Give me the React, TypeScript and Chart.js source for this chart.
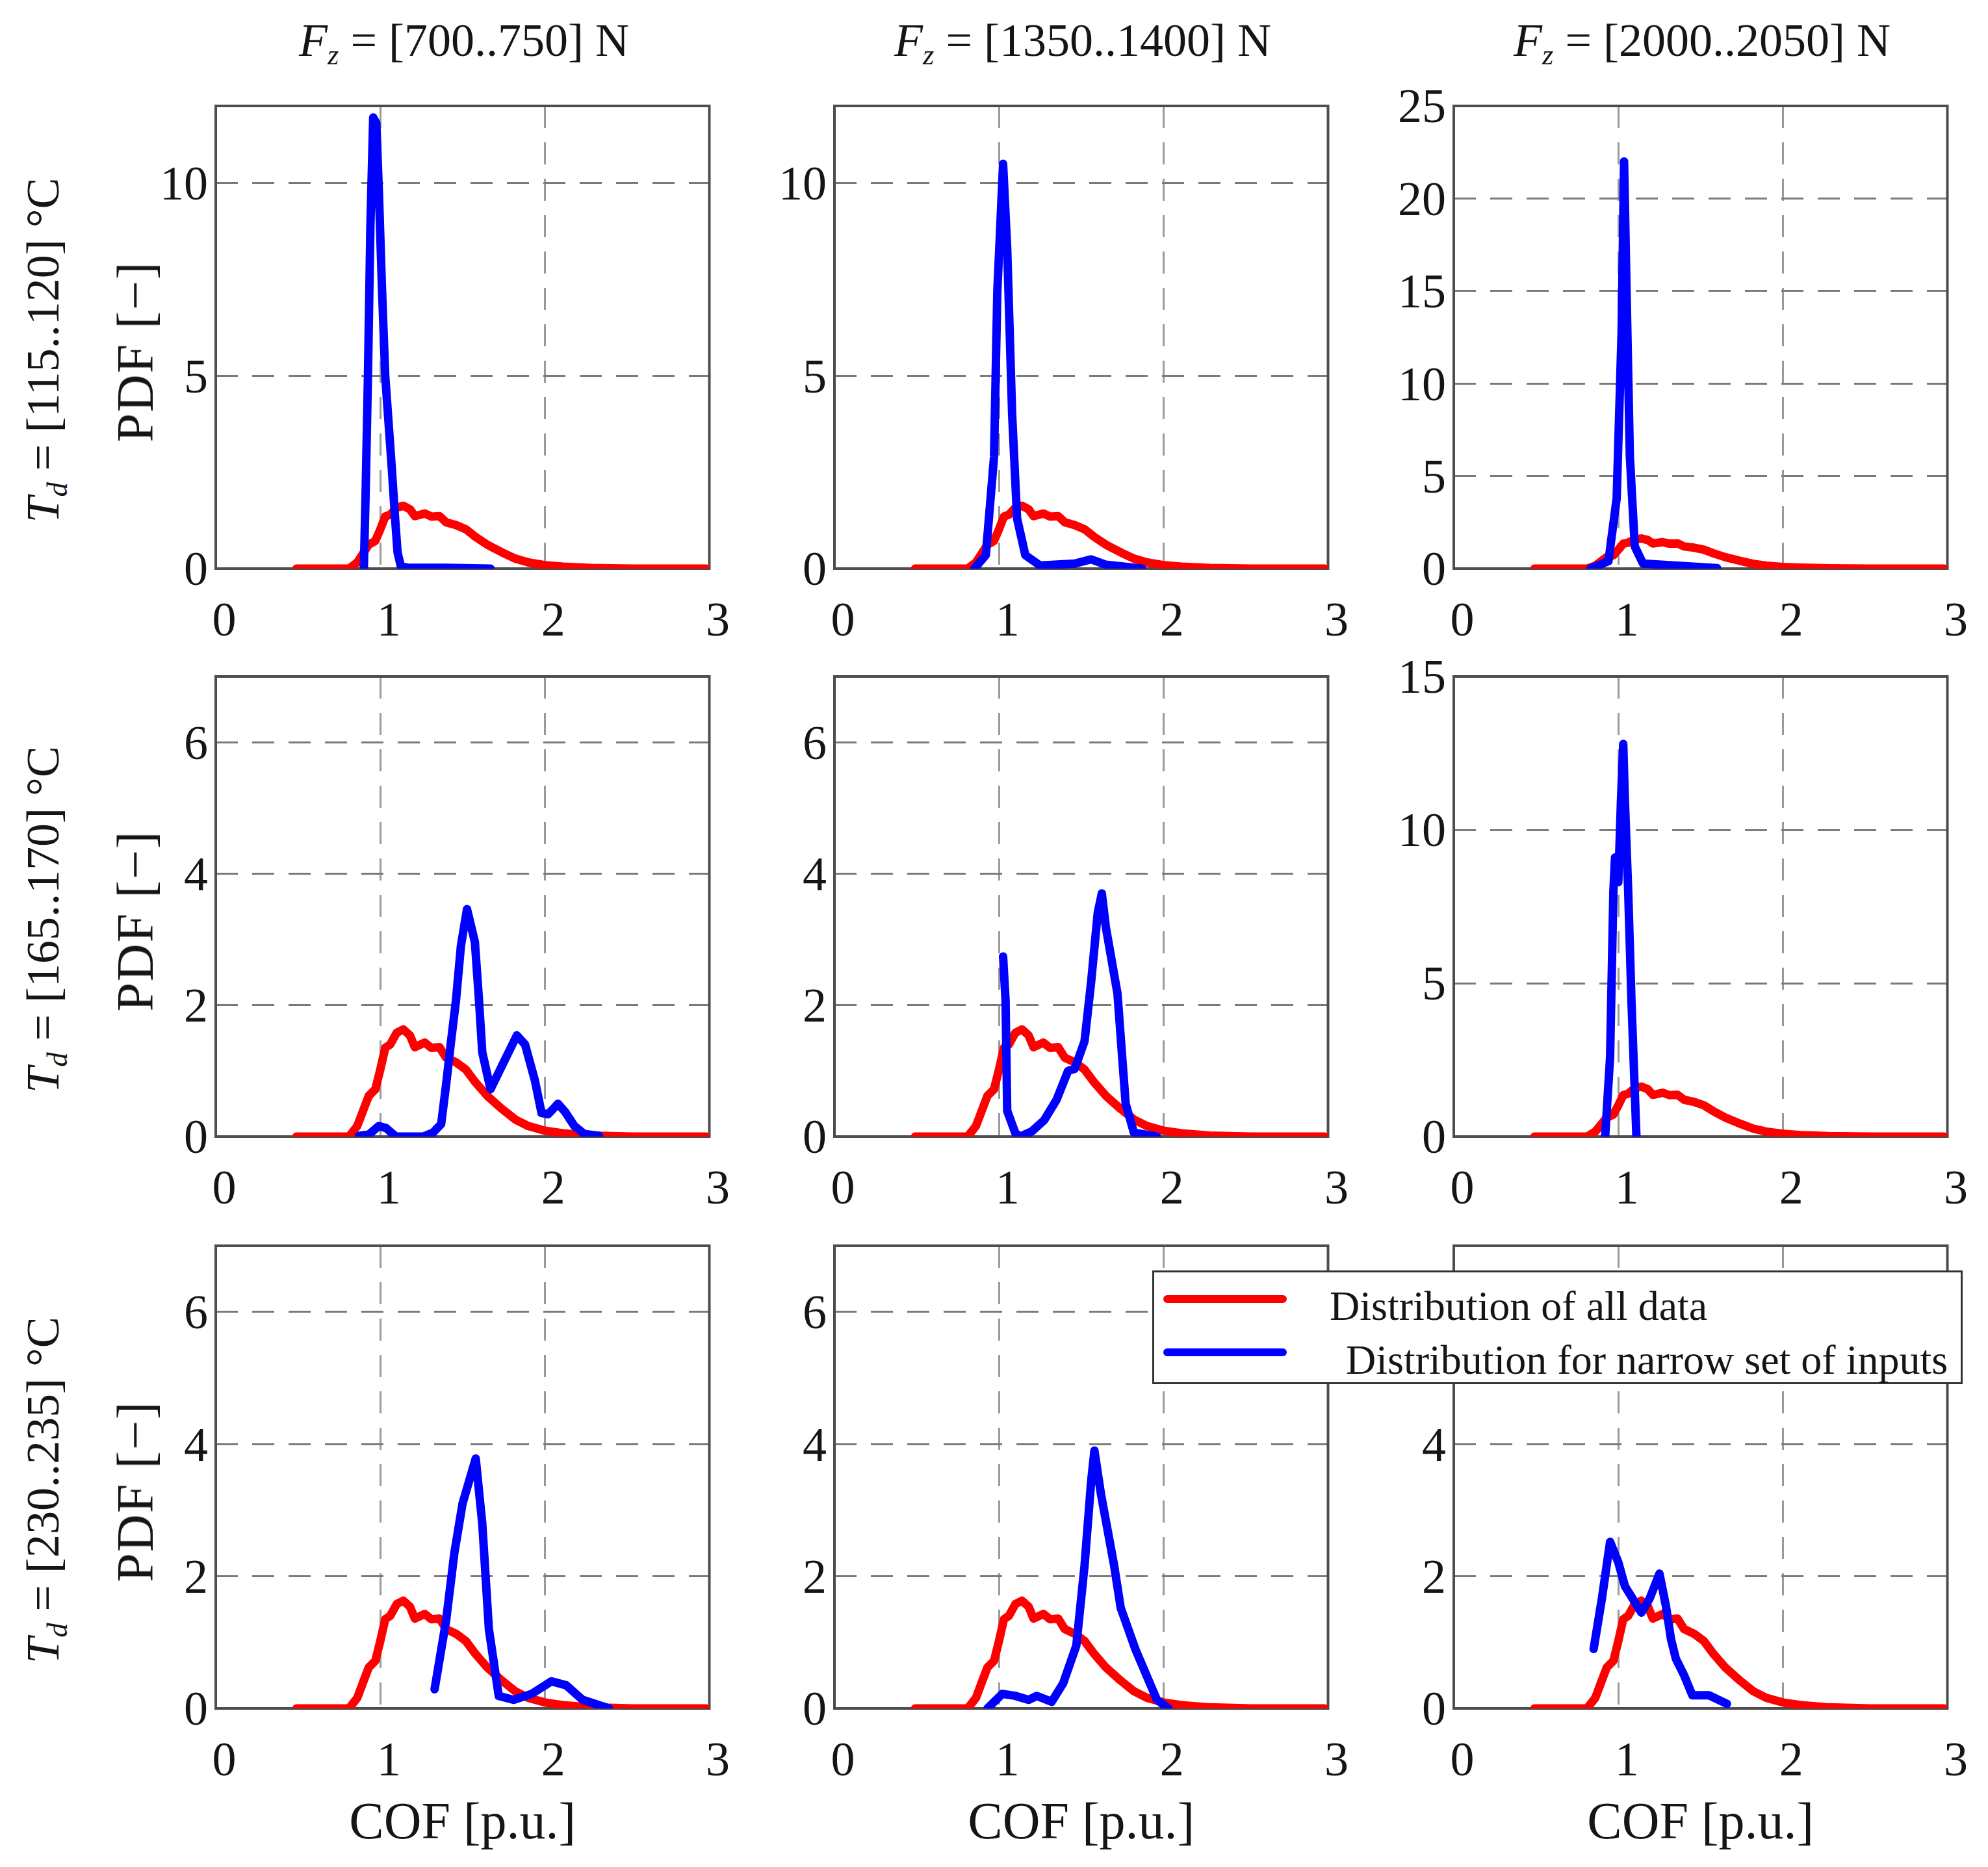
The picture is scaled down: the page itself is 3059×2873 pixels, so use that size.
import { useEffect, useRef } from "react"
import { Chart, registerables } from "chart.js"

Chart.register(...registerables)

// distribution of all data (same curve in every panel)
const allX = [0.49, 0.81, 0.86, 0.91, 0.93, 0.97, 1.0, 1.03, 1.06, 1.1, 1.14, 1.18, 1.21, 1.27, 1.31, 1.36, 1.4, 1.46, 1.52, 1.58, 1.65, 1.74, 1.82, 1.9, 2.0, 2.11, 2.28, 2.53, 2.98]
const allY = [0, 0, 0.16, 0.49, 0.62, 0.72, 1.02, 1.35, 1.4, 1.58, 1.63, 1.54, 1.36, 1.43, 1.35, 1.36, 1.2, 1.13, 1.02, 0.82, 0.62, 0.42, 0.26, 0.16, 0.09, 0.05, 0.016, 0, 0]

// distribution for narrow set of inputs, row = Td range, col = Fz range
const narrow11X = [0.9, 0.91, 0.925, 0.94, 0.957, 0.976, 0.992, 1.01, 1.03, 1.05, 1.07, 1.09, 1.105, 1.125, 1.17, 1.4, 1.67]
const narrow11Y = [0, 1.8, 5.0, 8.9, 11.7, 11.55, 9.7, 7.3, 5.0, 3.8, 2.6, 1.3, 0.42, 0.06, 0.02, 0.02, 0]
const narrow12X = [0.85, 0.92, 0.97, 0.99, 1.025, 1.05, 1.08, 1.11, 1.16, 1.25, 1.46, 1.56, 1.65, 1.87]
const narrow12Y = [0, 0.35, 2.9, 7.2, 10.5, 8.3, 4.0, 1.3, 0.35, 0.08, 0.13, 0.24, 0.1, 0]
const narrow13X = [0.83, 0.94, 0.99, 1.02, 1.035, 1.05, 1.07, 1.1, 1.15, 1.6]
const narrow13Y = [0, 0.4, 3.8, 12.8, 22, 15, 6.1, 1.2, 0.27, 0.03]

const narrow21X = [0.87, 0.93, 0.99, 1.035, 1.095, 1.26, 1.32, 1.37, 1.4, 1.43, 1.46, 1.49, 1.527, 1.575, 1.6, 1.62, 1.67, 1.83, 1.88, 1.94, 1.98, 2.02, 2.08, 2.125, 2.18, 2.24, 2.33]
const narrow21Y = [0.01, 0.03, 0.16, 0.13, 0, 0, 0.06, 0.19, 0.79, 1.45, 2.07, 2.9, 3.46, 2.96, 2.07, 1.28, 0.72, 1.54, 1.4, 0.85, 0.36, 0.34, 0.5, 0.37, 0.16, 0.04, 0.01]
const narrow22X = [1.025, 1.04, 1.05, 1.1, 1.13, 1.2, 1.275, 1.35, 1.42, 1.46, 1.52, 1.56, 1.6, 1.625, 1.65, 1.72, 1.77, 1.82, 1.96]
const narrow22Y = [2.74, 2.07, 0.39, 0.05, 0, 0.08, 0.25, 0.56, 1.0, 1.03, 1.45, 2.35, 3.4, 3.7, 3.18, 2.18, 0.5, 0.06, 0]
const narrow23X = [0.92, 0.95, 0.97, 0.98, 1.0, 1.016, 1.03, 1.04, 1.06, 1.08, 1.11]
const narrow23Y = [0, 2.6, 8.0, 9.1, 8.3, 10.95, 12.8, 10.95, 8.0, 4.4, 0]

const narrow31X = [1.33, 1.4, 1.45, 1.5, 1.58, 1.62, 1.66, 1.72, 1.81, 1.92, 2.04, 2.13, 2.23, 2.39]
const narrow31Y = [0.29, 1.33, 2.35, 3.1, 3.78, 2.79, 1.2, 0.19, 0.13, 0.22, 0.41, 0.35, 0.13, 0]
const narrow32X = [0.93, 1.02, 1.1, 1.18, 1.23, 1.32, 1.39, 1.47, 1.52, 1.56, 1.58, 1.62, 1.7, 1.74, 1.83, 1.96, 2.03]
const narrow32Y = [0, 0.22, 0.19, 0.13, 0.19, 0.1, 0.38, 0.95, 2.16, 3.43, 3.9, 3.24, 2.16, 1.52, 0.89, 0.13, 0]
const narrow33X = [0.85, 0.9, 0.95, 1.0, 1.04, 1.14, 1.19, 1.25, 1.29, 1.32, 1.35, 1.4, 1.45, 1.55, 1.66]
const narrow33Y = [0.9, 1.66, 2.52, 2.21, 1.85, 1.45, 1.66, 2.04, 1.54, 1.05, 0.75, 0.5, 0.2, 0.2, 0.07]

const fzRanges = ["700..750", "1350..1400", "2000..2050"]
const tdRanges = ["115..120", "165..170", "230..235"]
const yMaxes = [[12, 12, 25], [7, 7, 15], [7, 7, 7]]
const yStepSizes = [[5, 5, 5], [2, 2, 5], [2, 2, 2]]
const xTicks = [0, 1, 2, 3]

const allLabel = "Distribution of all data"
const narrowLabel = "Distribution for narrow set of inputs"
const yTitle = "PDF [−]"
const xTitle = "COF [p.u.]"

const narrowX = [[narrow11X, narrow12X, narrow13X], [narrow21X, narrow22X, narrow23X], [narrow31X, narrow32X, narrow33X]]
const narrowY = [[narrow11Y, narrow12Y, narrow13Y], [narrow21Y, narrow22Y, narrow23Y], [narrow31Y, narrow32Y, narrow33Y]]

// layout (page pixels)
const COL_LEFT = [332, 1284, 2237]
const PLOT_W = 772
const ROW_TOP = [163, 1041, 1917]
const PLOT_H = [712, 708, 712]
const PAD_TOP = 60
const PAD_RIGHT = 45

const FONT = "'Liberation Serif', 'Times New Roman', serif"
const TEXT = "#151515"
const RED = "#ff0000"
const BLUE = "#0000ff"

const framePlugin = {
  id: "frame",
  beforeDatasetsDraw(chart: Chart) {
    const { ctx, chartArea } = chart
    ctx.save()
    ctx.setLineDash([])
    ctx.strokeStyle = "#4d4d4d"
    ctx.lineWidth = 4
    ctx.strokeRect(chartArea.left, chartArea.top, chartArea.right - chartArea.left, chartArea.bottom - chartArea.top)
    ctx.restore()
  },
}

function toPoints(xs: number[], ys: number[]) {
  return xs.map((x, i) => ({ x, y: ys[i] }))
}

function Panel({ row, col }: { row: number; col: number }) {
  const chartRef = useRef<HTMLCanvasElement>(null)

  const yAxisW = 200
  const xAxisH = row === 2 ? 230 : 140
  const width = yAxisW + PLOT_W + PAD_RIGHT
  const height = PAD_TOP + PLOT_H[row] + xAxisH
  const left = COL_LEFT[col] - yAxisW
  const top = ROW_TOP[row] - PAD_TOP

  useEffect(() => {
    if (!chartRef.current) return
    const ctx = chartRef.current.getContext("2d")
    if (!ctx) return

    const chart = new Chart(ctx, {
      type: "line",
      data: {
        datasets: [
          {
            label: narrowLabel,
            data: toPoints(narrowX[row][col], narrowY[row][col]),
            borderColor: BLUE,
            borderWidth: 13,
            pointRadius: 0,
            tension: 0,
            borderCapStyle: "round",
            borderJoinStyle: "round",
            order: 0,
          },
          {
            label: allLabel,
            data: toPoints(allX, allY),
            borderColor: RED,
            borderWidth: 13,
            pointRadius: 0,
            tension: 0,
            borderCapStyle: "round",
            borderJoinStyle: "round",
            order: 1,
          },
        ],
      },
      options: {
        responsive: false,
        animation: false,
        devicePixelRatio: 1,
        events: [],
        layout: { padding: { top: PAD_TOP, right: PAD_RIGHT, left: 0, bottom: 0 } },
        plugins: {
          legend: { display: false },
          tooltip: { enabled: false },
        },
        scales: {
          x: {
            type: "linear",
            min: xTicks[0],
            max: xTicks[xTicks.length - 1],
            afterFit: (scale: any) => {
              scale.height = xAxisH
            },
            ticks: {
              stepSize: 1,
              autoSkip: false,
              maxRotation: 0,
              padding: 39,
              labelOffset: 13,
              color: TEXT,
              font: { family: FONT, size: 74 },
            },
            grid: { color: "#9a9a9a", lineWidth: 3, drawTicks: false },
            border: { display: false, dash: [34, 22] },
            title: {
              display: row === 2,
              text: xTitle,
              color: TEXT,
              font: { family: FONT, size: 80 },
              padding: { top: 0, bottom: 3 },
            },
          },
          y: {
            type: "linear",
            min: 0,
            max: yMaxes[row][col],
            afterFit: (scale: any) => {
              scale.width = yAxisW
            },
            ticks: {
              stepSize: yStepSizes[row][col],
              includeBounds: false,
              padding: 12,
              labelOffset: 6,
              color: TEXT,
              font: { family: FONT, size: 74 },
            },
            grid: { color: "#7a7a7a", lineWidth: 3, drawTicks: false },
            border: { display: false, dash: [34, 22] },
          },
        },
      },
      plugins: [framePlugin],
    })

    return () => {
      chart.destroy()
    }
  }, [row, col, xAxisH, yAxisW])

  return (
    <div style={{ position: "absolute", left, top, width, height }}>
      <canvas ref={chartRef} width={width} height={height} style={{ width, height, display: "block" }} />
    </div>
  )
}

const subStyle = { fontSize: "0.62em", position: "relative" as const, top: "0.3em" }

export default function App() {
  return (
    <div
      style={{
        position: "absolute",
        left: 0,
        top: 0,
        width: 3059,
        height: 2873,
        background: "#ffffff",
        overflow: "hidden",
        fontFamily: FONT,
        color: TEXT,
      }}
    >
      {[0, 1, 2].map((row) => [0, 1, 2].map((col) => <Panel key={`${row}-${col}`} row={row} col={col} />))}

      {fzRanges.map((range, col) => (
        <div
          key={range}
          style={{
            position: "absolute",
            left: COL_LEFT[col] + PLOT_W / 2 - 4,
            top: 62,
            transform: "translate(-50%, -50%)",
            whiteSpace: "nowrap",
            fontSize: 72,
            lineHeight: 1,
          }}
        >
          <i>F</i>
          <i style={subStyle}>z</i> = [{range}] N
        </div>
      ))}

      {tdRanges.map((range, row) => (
        <div
          key={range}
          style={{
            position: "absolute",
            left: 66,
            top: ROW_TOP[row] + PLOT_H[row] / 2 + 20,
            transform: "translate(-50%, -50%) rotate(-90deg)",
            whiteSpace: "nowrap",
            fontSize: 72,
            lineHeight: 1,
          }}
        >
          <i>T</i>
          <i style={subStyle}>d</i> = [{range}] °C
        </div>
      ))}

      {tdRanges.map((range, row) => (
        <div
          key={`pdf-${range}`}
          style={{
            position: "absolute",
            left: 208,
            top: ROW_TOP[row] + PLOT_H[row] / 2 + 22,
            transform: "translate(-50%, -50%) rotate(-90deg)",
            whiteSpace: "nowrap",
            fontSize: 80,
            lineHeight: 1,
            letterSpacing: 2,
          }}
        >
          {yTitle}
        </div>
      ))}

      <div
        style={{
          position: "absolute",
          left: 1773,
          top: 1955,
          width: 1247,
          height: 175,
          boxSizing: "border-box",
          border: "3px solid #333",
          background: "#ffffff",
        }}
      >
        <div style={{ position: "absolute", left: 14, top: 35, width: 190, height: 12, borderRadius: 6, background: RED }} />
        <div style={{ position: "absolute", left: 14, top: 117, width: 190, height: 12, borderRadius: 6, background: BLUE }} />
        <div
          style={{
            position: "absolute",
            left: 270,
            top: 52,
            transform: "translateY(-50%)",
            whiteSpace: "nowrap",
            fontSize: 64,
            lineHeight: 1,
          }}
        >
          {allLabel}
        </div>
        <div
          style={{
            position: "absolute",
            left: 295,
            top: 135,
            transform: "translateY(-50%)",
            whiteSpace: "nowrap",
            fontSize: 64,
            lineHeight: 1,
          }}
        >
          {narrowLabel}
        </div>
      </div>
    </div>
  )
}
